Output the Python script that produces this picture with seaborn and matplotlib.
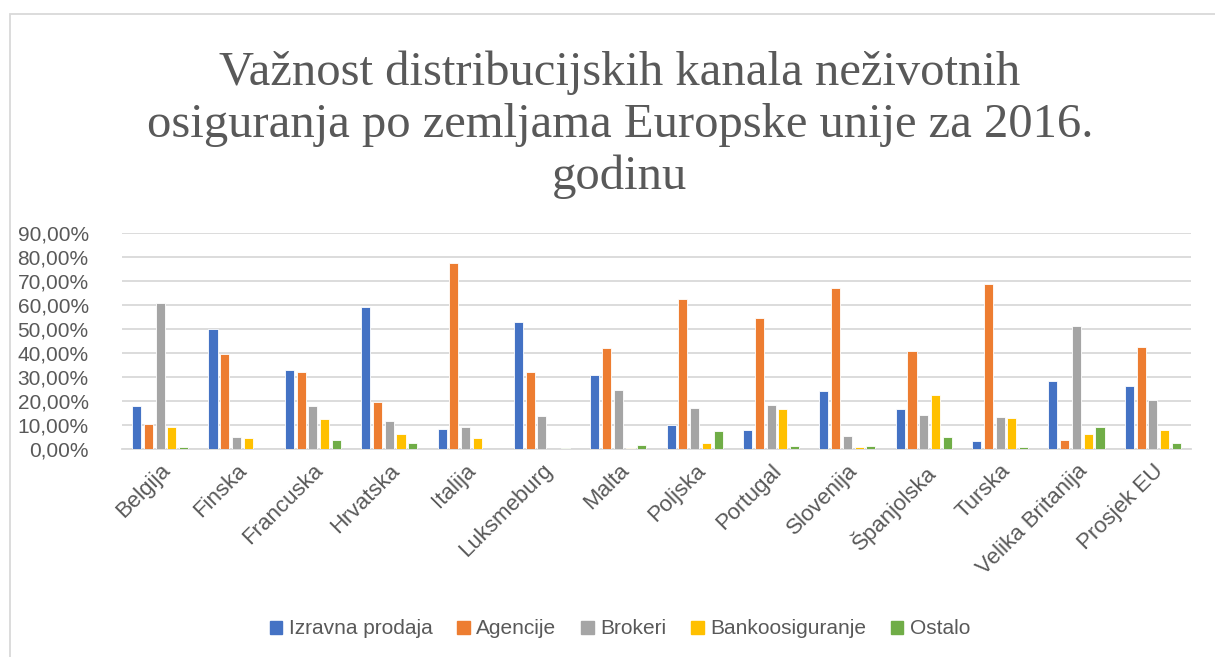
import matplotlib
matplotlib.use("Agg")
import matplotlib.pyplot as plt
import seaborn as sns
import pandas as pd
from matplotlib.ticker import FuncFormatter
from matplotlib.patches import Rectangle

countries = ["Belgija", "Finska", "Francuska", "Hrvatska", "Italija", "Luksmeburg",
             "Malta", "Poljska", "Portugal", "Slovenija", "Španjolska", "Turska",
             "Velika Britanija", "Prosjek EU"]
izravna = [18.0, 49.8, 32.7, 59.1, 8.2, 52.7, 30.8, 9.8, 7.9, 24.1, 16.6, 3.2, 28.4, 26.4]
agencije = [10.5, 39.7, 32.2, 19.4, 77.3, 32.2, 41.9, 62.3, 54.5, 66.9, 40.6, 68.5, 3.9, 42.3]
brokeri = [60.6, 5.0, 18.0, 11.7, 9.2, 13.7, 24.4, 16.9, 18.3, 5.5, 14.0, 13.5, 51.3, 20.2]
banko = [9.0, 4.7, 12.5, 6.1, 4.4, 0.0, 0.4, 2.4, 16.6, 1.0, 22.6, 12.9, 6.1, 7.8]
ostalo = [0.8, 0.0, 3.7, 2.6, 0.0, 0.4, 1.5, 7.6, 1.2, 1.2, 5.0, 1.0, 9.0, 2.6]
series_names = ["Izravna prodaja", "Agencije", "Brokeri", "Bankoosiguranje", "Ostalo"]
colors = ["#4472C4", "#ED7D31", "#A5A5A5", "#FFC000", "#70AD47"]
title = "Važnost distribucijskih kanala neživotnih\nosiguranja po zemljama Europske unije za 2016.\ngodinu"

rows = []
for name, vals in zip(series_names, [izravna, agencije, brokeri, banko, ostalo]):
    for c, v in zip(countries, vals):
        rows.append({"Zemlja": c, "Kanal": name, "Udio": v / 100.0})
df = pd.DataFrame(rows)

sns.set_theme(style="white")
plt.rcParams["font.family"] = ["Liberation Sans", "DejaVu Sans"]

fig = plt.figure(figsize=(12.15, 6.57), dpi=100)
ax = fig.add_axes([122 / 1215, 1 - 449 / 657, (1191 - 122) / 1215, (449 - 232.7) / 657])

sns.barplot(data=df, x="Zemlja", y="Udio", hue="Kanal", order=countries,
            hue_order=series_names, palette=colors, saturation=1, width=0.77, gap=0.23,
            edgecolor="white", linewidth=0.6, ax=ax, legend=True, zorder=3)

ax.set_ylim(0, 0.9)
ax.set_yticks([i / 10 for i in range(10)])
ax.yaxis.set_major_formatter(FuncFormatter(lambda v, p: f"{v*100:.2f}%".replace(".", ",")))
ax.grid(axis="y", color="#D9D9D9", linewidth=1.3, zorder=0)
ax.set_axisbelow(True)
for s in ["top", "right", "left"]:
    ax.spines[s].set_visible(False)
ax.spines["bottom"].set_color("#D9D9D9")
ax.spines["bottom"].set_linewidth(1.3)
ax.set_xlabel("")
ax.set_ylabel("")
ax.tick_params(axis="y", length=0, labelsize=15, colors="#595959", pad=24)
ax.tick_params(axis="x", length=0, labelsize=16, colors="#595959", pad=8)
ax.set_xlim(-0.5, len(countries) - 0.5)
for lab in ax.get_xticklabels():
    lab.set_rotation(45)
    lab.set_ha("right")
    lab.set_rotation_mode("anchor")

ax.legend_.remove()
handles = [Rectangle((0, 0), 1, 1, color=c) for c in colors]
fig.legend(handles, series_names, loc="center", bbox_to_anchor=(620 / 1215, 1 - 629 / 657),
           ncol=5, frameon=False, fontsize=15, labelcolor="#595959",
           handlelength=0.6, handleheight=0.6, handletextpad=0.3, columnspacing=1.2)

fig.text(620 / 1215, 1 - 125 / 657, title, ha="center", va="center", fontsize=35,
         family=["Liberation Serif", "DejaVu Serif"], color="#595959", linespacing=1.22)

fig.patches.append(Rectangle((10 / 1215, -0.1), 1.2, 1 - 14 / 657 + 0.1, transform=fig.transFigure,
                             fill=False, edgecolor="#D9D9D9", linewidth=1.3))

fig.savefig("out.png", dpi=100)
